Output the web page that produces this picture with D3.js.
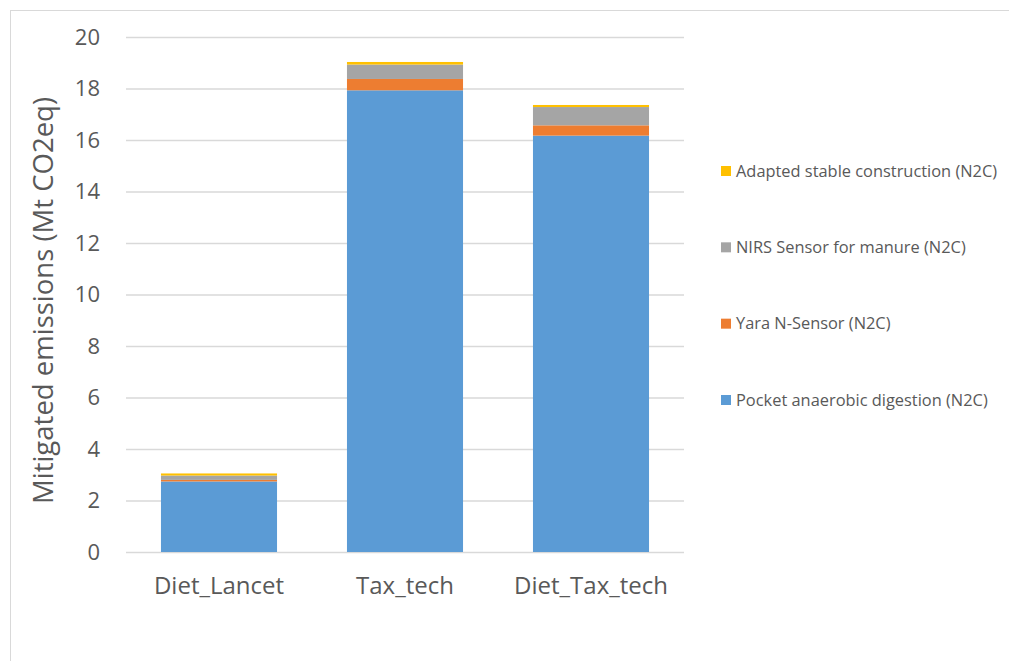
<!DOCTYPE html>
<html>
<head>
<meta charset="utf-8">
<script src="https://cdn.jsdelivr.net/npm/d3@7"></script>
<style>
  body { margin: 0; background: #fff; }
  svg { display: block; }
  svg text { font-family: "Open Sans", "Noto Sans", sans-serif; }
</style>
</head>
<body>
<svg id="chart" width="1009" height="661"></svg>
<script>
// Chart data
const categories = ['Diet_Lancet', 'Tax_tech', 'Diet_Tax_tech'];
const seriesNames = [
  'Pocket anaerobic digestion (N2C)',
  'Yara N-Sensor (N2C)',
  'NIRS Sensor for manure (N2C)',
  'Adapted stable construction (N2C)'
];
const pocketDigestion = [2.74, 17.93, 16.17];
const yaraSensor = [0.06, 0.44, 0.40];
const nirsSensor = [0.17, 0.56, 0.71];
const stableConstruction = [0.08, 0.10, 0.08];
const yTicks = [0, 2, 4, 6, 8, 10, 12, 14, 16, 18, 20];
const colors = ['#5B9BD5', '#ED7D31', '#A5A5A5', '#FFC000'];

const svg = d3.select('#chart');
const W = 1009, H = 661;

// outer chart frame (Excel-like)
svg.append('rect')
  .attr('x', 10.5).attr('y', 10.5)
  .attr('width', W + 10).attr('height', H + 10)
  .attr('fill', 'none')
  .attr('stroke', '#D9D9D9');

const plot = { left: 126, right: 684, top: 37, bottom: 552 };

const x = d3.scaleBand()
  .domain(categories)
  .range([plot.left, plot.right])
  .paddingInner(0.376)
  .paddingOuter(0.188);

const y = d3.scaleLinear()
  .domain([0, 20])
  .range([plot.bottom, plot.top]);

// gridlines
svg.append('g')
  .selectAll('line')
  .data(yTicks)
  .join('line')
  .attr('x1', plot.left).attr('x2', plot.right)
  .attr('y1', d => y(d) + 0.5).attr('y2', d => y(d) + 0.5)
  .attr('stroke', '#D9D9D9')
  .attr('stroke-width', 1.3);

// stacked bars
const rows = categories.map((c, i) => ({
  cat: c,
  s0: pocketDigestion[i],
  s1: yaraSensor[i],
  s2: nirsSensor[i],
  s3: stableConstruction[i]
}));
const stack = d3.stack().keys(['s0', 's1', 's2', 's3']);
const layers = stack(rows);

svg.append('g')
  .selectAll('g')
  .data(layers)
  .join('g')
  .attr('fill', (d, i) => colors[i])
  .selectAll('rect')
  .data(d => d)
  .join('rect')
  .attr('x', d => x(d.data.cat))
  .attr('width', x.bandwidth())
  .attr('y', d => y(d[1]))
  .attr('height', d => y(d[0]) - y(d[1]));

// y axis
const yAxis = svg.append('g')
  .attr('transform', `translate(${plot.left - 26},0)`)
  .call(d3.axisLeft(y).tickValues(yTicks).tickSize(0).tickPadding(0));
yAxis.attr('font-family', null);
yAxis.select('.domain').remove();
yAxis.selectAll('text')
  .attr('fill', '#595959')
  .attr('font-size', 22);

// x axis
const xAxis = svg.append('g')
  .attr('transform', `translate(0,${plot.bottom})`)
  .call(d3.axisBottom(x).tickSize(0).tickPadding(25));
xAxis.attr('font-family', null);
xAxis.select('.domain').remove();
xAxis.selectAll('text')
  .attr('fill', '#595959')
  .attr('font-size', 24);

// y axis title
svg.append('text')
  .attr('transform', `translate(53,${(plot.top + plot.bottom) / 2 + 6}) rotate(-90)`)
  .attr('text-anchor', 'middle')
  .attr('fill', '#595959')
  .attr('font-size', 27.5)
  .text('Mitigated emissions (Mt CO2eq)');

// legend (reverse order, top = last series)
const legendY = d3.scalePoint()
  .domain(seriesNames.slice().reverse())
  .range([171, 400]);

const legend = svg.append('g')
  .selectAll('g')
  .data(seriesNames)
  .join('g')
  .attr('transform', d => `translate(721,${legendY(d)})`);

legend.append('rect')
  .attr('x', 0).attr('y', -5)
  .attr('width', 10).attr('height', 10)
  .attr('fill', (d, i) => colors[i]);

legend.append('text')
  .attr('x', 15).attr('y', 0)
  .attr('dy', '0.35em')
  .attr('fill', '#595959')
  .attr('font-size', 16.4)
  .text(d => d);
</script>
</body>
</html>
